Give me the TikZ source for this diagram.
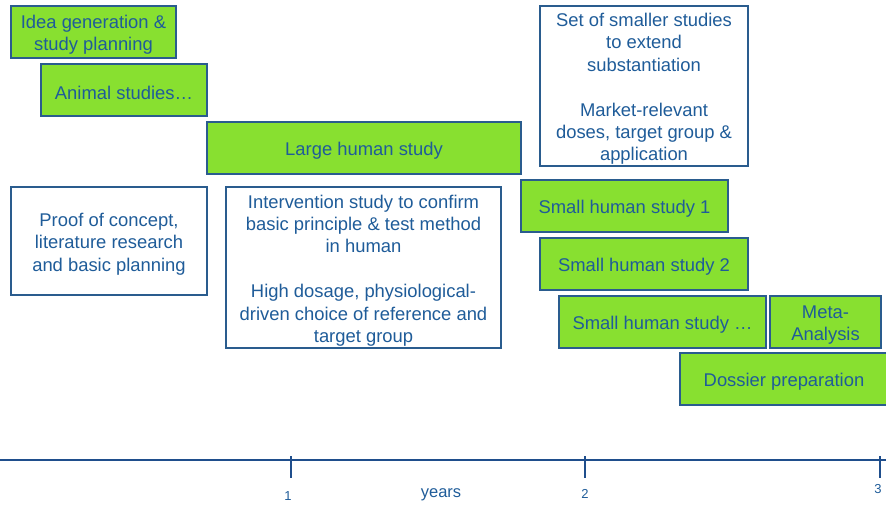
\documentclass[tikz,border=0pt]{standalone}
\usepackage{fontspec}
\setmainfont{Liberation Sans}
\definecolor{leaf}{HTML}{88E030}
\definecolor{ink}{HTML}{1F5C99}
\definecolor{rim}{HTML}{2A5C8E}
\definecolor{axisblue}{HTML}{1F4E8C}
\begin{document}
\begin{tikzpicture}[x=1pt,y=-1pt,
  phase/.style={draw=rim, line width=1.3pt, inner sep=0pt},
  phasetext/.style={align=center, text=ink, inner sep=0pt, yshift=-3pt,
    font=\fontsize{18.4}{22.4}\selectfont},
  active/.style={phase, fill=leaf},
  note/.style={phase, fill=white},
  axisline/.style={draw=axisblue, line width=1.8pt},
  ticklabel/.style={text=ink, inner sep=0pt, font=\fontsize{13}{15}\selectfont}]
\useasboundingbox (0,0) rectangle (886,504);

% phases of the project
\node[active, minimum width=165pt, minimum height=52pt,
  label={[phasetext]center:Idea generation \&\\study planning}] (idea) at (93.5,32) {};
\node[active, minimum width=166pt, minimum height=52pt,
  label={[phasetext]center:Animal studies…}] (animal) at (124,90) {};
\node[active, minimum width=314pt, minimum height=52pt,
  label={[phasetext]center:Large human study}] (large) at (364,148) {};
\node[note, minimum width=196pt, minimum height=108pt,
  label={[phasetext]center:Proof of concept,\\literature research\\and basic planning}]
  (proof) at (109,241) {};
\node[note, minimum width=275pt, minimum height=161pt,
  label={[phasetext]center:Intervention study to confirm\\basic principle \& test method\\in human\\[22.4pt]
   High dosage, physiological-\\driven choice of reference and\\target group}]
  (interv) at (363.5,267.5) {};
\node[note, minimum width=208pt, minimum height=160pt,
  label={[phasetext]center:Set of smaller studies\\to extend\\substantiation\\[22.4pt]
   Market-relevant\\doses, target group \&\\application}]
  (extend) at (644,86) {};
\node[active, minimum width=207pt, minimum height=52pt,
  label={[phasetext]center:Small human study 1}] (small1) at (624.5,206) {};
\node[active, minimum width=208pt, minimum height=52pt,
  label={[phasetext]center:Small human study 2}] (small2) at (644,264) {};
\node[active, minimum width=207pt, minimum height=52pt,
  label={[phasetext]center:Small human study …}] (small3) at (662.5,322) {};
\node[active, minimum width=111pt, minimum height=52pt,
  label={[phasetext]center:Meta-\\Analysis}] (meta) at (825.5,322) {};
\node[active, minimum width=208pt, minimum height=52pt,
  label={[phasetext]center:Dossier preparation}] (dossier) at (784,379) {};

% time axis
\coordinate (axisL) at (0,460);
\coordinate (axisR) at (886,460);
\draw[axisline] (axisL) -- (axisR);
\foreach \x/\n in {291/1,585/2,880/3}{
  \coordinate (tickT\n) at (\x,456);
  \coordinate (tickB\n) at (\x,478);
  \draw[axisline] (tickT\n) -- (tickB\n);
}
\node[ticklabel] (year1) at (288,496) {1};
\node[ticklabel] (year2) at (585,494) {2};
\node[ticklabel] (year3) at (878,489) {3};
\node[ticklabel, font=\fontsize{16.5}{18}\selectfont] (years) at (441,494.5) {years};
\end{tikzpicture}
\end{document}
